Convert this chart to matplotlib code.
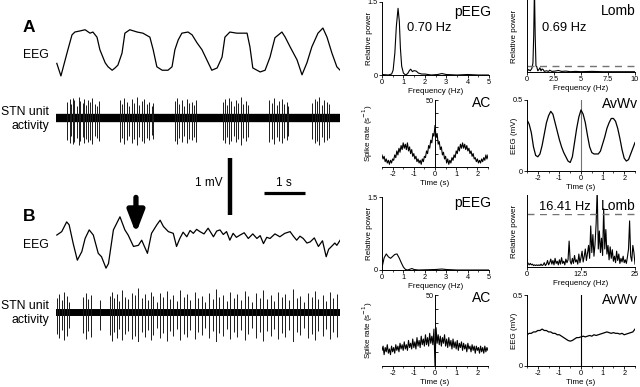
import matplotlib
matplotlib.use("Agg")
import matplotlib.pyplot as plt
from matplotlib.ticker import MultipleLocator

plt.rcParams['font.family'] = ['Liberation Sans', 'DejaVu Sans']
plt.rcParams['axes.unicode_minus'] = False

# ---- raw traces (time in s, EEG in mV, unit activity in arbitrary units) ----
eeg_a_t = [0.02, 0.12, 0.29, 0.39, 0.46, 0.59, 0.71, 0.83, 0.90, 1.00, 1.07, 1.20, 1.27, 1.37,
           1.44, 1.51, 1.61, 1.68, 1.80, 1.98, 2.12, 2.29, 2.37, 2.46, 2.59, 2.73, 2.83, 2.90,
           2.98, 3.07, 3.22, 3.32, 3.44, 3.56, 3.68, 3.80, 3.93, 4.05, 4.12, 4.24, 4.41, 4.66,
           4.73, 4.80, 4.98, 5.10, 5.22, 5.34, 5.51, 5.59, 5.71, 5.88, 6.00, 6.12, 6.24, 6.39,
           6.51, 6.61, 6.73, 6.85, 6.93]
eeg_a_v = [-0.20, -0.42, 0.04, 0.30, 0.35, 0.37, 0.39, 0.33, 0.35, 0.26, 0.04, -0.19, -0.26, -0.32,
           -0.28, -0.23, -0.02, 0.33, 0.39, 0.35, 0.33, 0.26, 0.04, -0.26, -0.32, -0.32, -0.26, 0.04,
           0.21, 0.33, 0.35, 0.30, 0.16, 0.04, -0.14, -0.32, -0.28, -0.09, 0.26, 0.35, 0.33, 0.33,
           0.09, -0.28, -0.35, -0.32, -0.09, 0.25, 0.35, 0.26, 0.09, -0.14, -0.40, -0.19, 0.09, 0.33,
           0.42, 0.26, -0.02, -0.26, -0.32]

eeg_b_t = [0.02, 0.14, 0.26, 0.32, 0.42, 0.52, 0.63, 0.71, 0.81, 0.91, 1.03, 1.11, 1.22, 1.28,
           1.40, 1.56, 1.68, 1.76, 1.89, 2.01, 2.09, 2.23, 2.33, 2.46, 2.54, 2.62, 2.74, 2.86,
           2.94, 3.02, 3.10, 3.19, 3.27, 3.35, 3.43, 3.51, 3.61, 3.71, 3.78, 3.84, 3.92, 4.00,
           4.08, 4.16, 4.24, 4.32, 4.40, 4.49, 4.59, 4.69, 4.80, 4.90, 4.98, 5.06, 5.14, 5.22,
           5.34, 5.46, 5.58, 5.71, 5.79, 5.87, 5.95, 6.03, 6.12, 6.20, 6.30, 6.40, 6.50, 6.59,
           6.65, 6.72, 6.80, 6.85, 6.93]
eeg_b_v = [0.00, 0.06, 0.23, 0.18, -0.15, -0.44, -0.29, -0.06, 0.09, 0.00, -0.32, -0.38, -0.58, -0.50,
           0.09, 0.32, 0.09, 0.00, -0.20, -0.18, -0.09, -0.32, 0.03, 0.18, 0.26, 0.15, 0.06, 0.03,
           -0.20, -0.06, 0.05, -0.03, 0.08, 0.03, 0.10, 0.06, 0.02, 0.12, 0.04, -0.03, 0.07, 0.09,
           0.01, 0.06, -0.09, 0.03, -0.04, 0.00, 0.04, -0.06, 0.02, -0.06, -0.01, -0.15, -0.04, -0.06,
           0.02, -0.03, 0.03, 0.06, -0.02, -0.09, -0.02, -0.06, -0.14, -0.12, -0.05, -0.20, -0.10, -0.38,
           -0.25, -0.20, -0.14, -0.18, -0.09]

stn_a_t = [0.28, 0.33, 0.37, 0.41, 0.45, 0.50, 0.55, 0.59, 0.65, 0.69, 0.73, 0.79, 0.83, 0.89, 0.95, 1.01, 1.06,
           1.56, 1.60, 1.66, 1.72, 1.79, 1.85, 1.90, 1.97, 2.03, 2.09, 2.15, 2.21, 2.27, 2.33, 2.37,
           2.90, 2.94, 3.00, 3.07, 3.12, 3.19, 3.25, 3.31, 3.37, 3.41,
           4.07, 4.12, 4.18, 4.23, 4.28, 4.34, 4.39, 4.45, 4.50, 4.57, 4.63, 4.69,
           5.20, 5.26, 5.32, 5.38, 5.45, 5.50, 5.56, 5.63, 5.67,
           6.25, 6.31, 6.37, 6.42, 6.48, 6.54, 6.60, 6.67]
stn_a_up = [16, 19, 14, 20, 18, 12, 21, 17, 15, 19, 13, 18, 16, 20, 14, 12, 17,
            18, 14, 20, 16, 12, 19, 15, 21, 13, 17, 19, 14, 16, 12, 15,
            17, 20, 14, 18, 12, 19, 15, 16, 13, 18,
            16, 19, 13, 20, 17, 12, 18, 15, 21, 14, 17, 13,
            18, 15, 20, 13, 17, 19, 14, 16, 12,
            15, 19, 17, 21, 13, 18, 16, 14]
stn_a_dn = [-22, -25, -18, -26, -24, -20, -27, -23, -19, -25, -21, -24, -22, -26, -18, -20, -23,
            -24, -20, -26, -22, -18, -25, -21, -27, -19, -23, -25, -20, -22, -17, -21,
            -23, -26, -20, -24, -18, -25, -21, -22, -19, -24,
            -22, -25, -19, -26, -23, -18, -24, -21, -27, -20, -23, -19,
            -24, -21, -26, -19, -23, -25, -20, -22, -18,
            -21, -25, -23, -27, -19, -24, -22, -20]

stn_b_t = [0.03, 0.08, 0.14, 0.20, 0.26, 0.31, 0.67, 0.73, 0.79, 0.85, 1.07,
           1.32, 1.37, 1.41, 1.48, 1.54, 1.60, 1.68, 1.76, 1.85, 1.93,
           2.01, 2.09, 2.17, 2.25, 2.31, 2.37, 2.46, 2.54, 2.62, 2.70,
           2.78, 2.86, 2.94, 3.02, 3.12, 3.20, 3.28, 3.39, 3.47, 3.55,
           3.63, 3.72, 3.82, 3.90, 3.98, 4.07, 4.16, 4.24, 4.33, 4.42,
           4.50, 4.61, 4.69, 4.77, 4.88, 4.98, 5.06, 5.14, 5.24, 5.32,
           5.42, 5.50, 5.59, 5.69, 5.79, 5.87, 5.95, 6.05, 6.15, 6.24,
           6.32, 6.40, 6.50, 6.59, 6.68, 6.76, 6.86]
stn_b_up = [14, 18, 12, 20, 16, 10, 15, 19, 13, 17, 12,
            16, 20, 14, 18, 11, 22, 15, 13, 19, 17,
            24, 14, 18, 12, 20, 16, 10, 19, 15, 21,
            13, 17, 11, 22, 15, 18, 12, 20, 14, 16,
            10, 19, 13, 23, 15, 17, 11, 20, 14, 18,
            12, 21, 16, 10, 19, 14, 22, 13, 17, 11,
            20, 15, 18, 12, 23, 14, 16, 10, 19, 15,
            21, 13, 17, 11, 20, 14, 18]
stn_b_dn = [-22, -26, -18, -28, -24, -16, -21, -27, -19, -25, -18,
            -23, -29, -20, -26, -17, -28, -22, -19, -27, -24,
            -30, -20, -25, -18, -28, -23, -16, -26, -21, -29,
            -19, -24, -17, -28, -22, -25, -18, -27, -20, -23,
            -16, -26, -19, -30, -21, -24, -17, -27, -20, -25,
            -18, -28, -22, -16, -26, -20, -29, -19, -24, -17,
            -27, -21, -25, -18, -30, -20, -23, -16, -26, -22,
            -28, -19, -24, -17, -27, -20, -25]

# ---- spectra ----
peeg_a_f = [0, 0.3, 0.45, 0.52, 0.6, 0.67, 0.75, 0.81, 0.86, 0.92, 1.0, 1.1, 1.2, 1.28, 1.34,
            1.42, 1.5, 1.6, 1.7, 1.85, 2.0, 2.3, 2.6, 2.8, 3.0, 3.5, 4.0, 4.5, 5.0]
peeg_a_p = [0.01, 0.0, 0.02, 0.1, 0.45, 1.0, 1.37, 1.1, 0.55, 0.18, 0.04, 0.0, 0.03, 0.09, 0.12,
            0.07, 0.09, 0.08, 0.04, 0.02, 0.02, 0.0, 0.01, 0.03, 0.01, 0.0, 0.01, 0.0, 0.0]
peeg_b_f = [0, 0.05, 0.1, 0.2, 0.3, 0.4, 0.5, 0.6, 0.7, 0.8, 0.9, 1.0, 1.1, 1.2, 1.4, 1.5,
            1.7, 2.5, 2.8, 3.0, 3.5, 5.0]
peeg_b_p = [0.05, 0.15, 0.25, 0.33, 0.27, 0.24, 0.28, 0.32, 0.33, 0.25, 0.15, 0.06, 0.01, 0.0,
            0.03, 0.01, 0.0, 0.01, 0.02, 0.01, 0.0, 0.0]

lomb_a_f = [0, 0.15, 0.3, 0.45, 0.55, 0.62, 0.69, 0.76, 0.83, 0.9, 1.0, 1.1, 1.2, 1.3, 1.4, 1.5,
            1.6, 1.8, 2.0, 2.1, 2.3, 2.6, 2.9, 3.2, 3.6, 4.0, 4.5, 5.0, 6.0, 7.0, 8.0, 9.0, 10.0]
lomb_a_p = [0.1, 0.4, 0.2, 0.6, 1.5, 6.0, 14.0, 6.0, 1.0, 0.9, 0.2, 0.4, 0.7, 0.2, 0.5, 0.4,
            0.1, 0.2, 0.1, 0.3, 0.1, 0.15, 0.25, 0.1, 0.15, 0.05, 0.1, 0.05, 0.1, 0.05, 0.05, 0.05, 0.05]
lomb_a_thr = 1.0

lomb_b_f = [i * 0.25 for i in range(101)]
lomb_b_p = [0.8, 0.5, 0.3, 0.5, 0.3, 0.4, 0.2, 0.3, 0.2, 0.3, 0.2, 0.3, 0.2, 0.4, 0.2, 0.3,
            0.6, 0.2, 0.4, 0.9, 0.3, 0.6, 1.1, 0.4, 0.9, 0.3, 1.2, 0.5, 0.8, 0.3, 1.0, 0.4,
            1.3, 0.5, 0.8, 0.3, 1.1, 0.6, 1.0, 3.6, 0.8, 0.4, 1.2, 0.5, 1.6, 0.7, 1.0, 0.4,
            1.8, 0.6, 1.3, 2.2, 0.7, 1.5, 2.5, 0.9, 1.9, 3.0, 1.2, 5.7, 2.0, 4.5, 1.5, 3.2,
            6.0, 10.8, 2.5, 5.0, 2.0, 4.0, 1.6, 8.1, 2.5, 5.2, 1.8, 3.0, 1.0, 2.8, 1.2, 2.4,
            0.8, 1.5, 0.6, 2.2, 0.9, 1.8, 0.5, 1.2, 0.7, 1.5, 0.6, 1.0, 0.5, 1.4, 2.5, 6.4,
            1.5, 0.8, 3.0, 2.0, 0.4]
lomb_b_thr = 7.3

# ---- autocorrelograms and wave averages ----
lag_t = [round(-2.5 + 0.05 * i, 2) for i in range(101)]
ac_a = [9, 6, 8, 4, 6, 3, 5, 2, 5, 3, 6, 5, 9, 7, 12, 9, 14, 11, 16, 13, 18, 14, 17, 13, 18,
        12, 15, 10, 13, 8, 10, 6, 8, 4, 6, 3, 5, 2, 6, 4, 8, 7, 12, 10, 16, 14, 20, 18, 25, 23,
        31, 22, 25, 17, 19, 13, 15, 9, 11, 6, 8, 3, 6, 2, 5, 3, 7, 5, 9, 7, 12, 10, 15, 12, 17,
        14, 18, 14, 17, 13, 16, 12, 14, 10, 12, 8, 10, 6, 7, 4, 6, 3, 5, 3, 6, 4, 7, 5, 9, 6, 9]
ac_b = [11, 14, 8, 13, 10, 15, 9, 12, 8, 14, 10, 13, 9, 15, 11, 14, 10, 16, 12, 15, 11, 17, 12,
        15, 11, 18, 13, 16, 12, 19, 13, 17, 12, 20, 14, 18, 13, 21, 15, 19, 14, 22, 15, 20, 14,
        23, 16, 21, 15, 26, 0, 27, 16, 22, 15, 21, 14, 20, 16, 22, 14, 19, 13, 20, 14, 18, 12,
        19, 13, 17, 12, 18, 11, 16, 13, 17, 11, 16, 12, 15, 10, 16, 12, 14, 10, 15, 11, 14, 9,
        14, 11, 13, 9, 14, 10, 13, 9, 14, 10, 13, 11]

avwv_t = [-2.5, -2.4, -2.3, -2.2, -2.1, -2.0, -1.9, -1.8, -1.7, -1.6, -1.5, -1.4, -1.3, -1.2,
          -1.1, -1.0, -0.9, -0.8, -0.7, -0.6, -0.5, -0.4, -0.3, -0.2, -0.1, 0.0, 0.1, 0.2, 0.3,
          0.4, 0.5, 0.6, 0.7, 0.8, 0.9, 1.0, 1.1, 1.2, 1.3, 1.4, 1.5, 1.6, 1.7, 1.8, 1.9, 2.0,
          2.1, 2.2, 2.3, 2.4, 2.5]
avwv_a = [0.36, 0.33, 0.27, 0.17, 0.11, 0.10, 0.12, 0.18, 0.26, 0.34, 0.39, 0.42, 0.40, 0.34,
          0.28, 0.22, 0.17, 0.13, 0.10, 0.07, 0.06, 0.10, 0.20, 0.30, 0.38, 0.43, 0.40, 0.34,
          0.25, 0.17, 0.13, 0.12, 0.12, 0.12, 0.14, 0.19, 0.24, 0.30, 0.34, 0.37, 0.37, 0.35,
          0.30, 0.23, 0.15, 0.09, 0.07, 0.08, 0.12, 0.16, 0.20]
avwv_b = [0.22, 0.23, 0.23, 0.24, 0.24, 0.25, 0.25, 0.26, 0.25, 0.25, 0.24, 0.24, 0.23, 0.23,
          0.22, 0.22, 0.21, 0.20, 0.19, 0.18, 0.175, 0.18, 0.19, 0.20, 0.20, 0.205, 0.21, 0.205,
          0.21, 0.215, 0.21, 0.22, 0.215, 0.22, 0.225, 0.23, 0.235, 0.24, 0.235, 0.23, 0.235,
          0.23, 0.23, 0.225, 0.23, 0.22, 0.225, 0.23, 0.235, 0.24, 0.26]

W, H = 640.0, 387.0
T_END = 284 / 41.0

fig = plt.figure(figsize=(6.4, 3.87), dpi=100)


def box(x0, y0, x1, y1):
    return fig.add_axes([x0 / W, 1 - y1 / H, (x1 - x0) / W, (y1 - y0) / H])


def ftext(x, y, s, **kw):
    fig.text(x / W, 1 - y / H, s, **kw)


# ---------------- left: raw traces ----------------
axEa = box(56, 20, 340, 85)
axEa.plot(eeg_a_t, eeg_a_v, color='k', lw=0.9)
axEa.set_xlim(0, T_END)
axEa.set_ylim(-0.579, 0.561)
axEa.axis('off')

axSa = box(56, 94, 340, 148)
axSa.axhline(0, color='k', lw=6.0)
axSa.vlines(stn_a_t, stn_a_dn, stn_a_up, color='0.1', lw=0.7)
axSa.set_xlim(0, T_END)
axSa.set_ylim(-30, 24)
axSa.axis('off')

axEb = box(56, 150, 340, 275)
axEb.plot(eeg_b_t, eeg_b_v, color='k', lw=0.9)
axEb.set_xlim(0, T_END)
axEb.set_ylim(-0.70, 1.49)
axEb.axis('off')
# scale bars: 1 mV and 1 s
axEb.plot([4.24, 4.24], [0.35, 1.35], color='k', lw=3.2, solid_capstyle='butt')
axEb.plot([5.07, 6.07], [0.74, 0.74], color='k', lw=2.3, solid_capstyle='butt')
axEb.text(4.06, 0.91, '1 mV', ha='right', va='center', fontsize=8.5)
axEb.text(5.57, 0.91, '1 s', ha='center', va='center', fontsize=8.5)
axEb.annotate('', xy=(1.95, 0.03), xytext=(1.95, 0.66),
              arrowprops=dict(arrowstyle='-|>,head_width=0.5,head_length=1.3',
                              color='k', lw=3.8, shrinkA=0, shrinkB=0))

axSb = box(56, 288, 340, 342)
axSb.axhline(0, color='k', lw=5.0)
axSb.vlines(stn_b_t, stn_b_dn, stn_b_up, color='0.1', lw=0.7)
axSb.set_xlim(0, T_END)
axSb.set_ylim(-30, 24)
axSb.axis('off')

ftext(23, 28, 'A', fontsize=12.5, fontweight='bold', va='center')
ftext(23, 217, 'B', fontsize=12.5, fontweight='bold', va='center')
for yy in (55, 245):
    ftext(49, yy, 'EEG', fontsize=8.8, ha='right', va='center')
for yy in (119, 313):
    ftext(49, yy, 'STN unit\nactivity', fontsize=8.8, ha='right', va='center',
          multialignment='right', linespacing=1.25)


# ---------------- right: small analysis panels ----------------
def style(ax):
    for s in ('top', 'right'):
        ax.spines[s].set_visible(False)
    for s in ('left', 'bottom'):
        ax.spines[s].set_linewidth(0.7)
    ax.tick_params(labelsize=5.3, length=2, width=0.6, pad=1)
    ax.tick_params(which='minor', length=1.2, width=0.5)


def freq_panel(ax, f, p, xmax, ylim, xticks, xlabels, yticks):
    style(ax)
    ax.plot(f, p, color='k', lw=0.8)
    ax.set_xlim(0, xmax)
    ax.set_ylim(*ylim)
    ax.set_xticks(xticks)
    ax.set_xticklabels(xlabels)
    ax.set_yticks(yticks)
    ax.set_yticklabels(['0', '1.5'] if yticks else [])
    ax.set_xlabel('Frequency (Hz)', fontsize=5.8, labelpad=1)
    ax.set_ylabel('Relative power', fontsize=5.8)


def ac_panel(ax, vals):
    style(ax)
    ax.plot(lag_t, vals, color='k', lw=0.8)
    ax.set_xlim(-2.5, 2.5)
    ax.set_ylim(0, 50)
    ax.spines['left'].set_position(('data', 0))
    ax.set_yticks([10, 20, 30, 40, 50])
    ax.set_yticklabels(['', '', '', '', '50'])
    ax.tick_params(axis='y', direction='in')
    ax.set_xticks([-2, -1, 0, 1, 2])
    ax.xaxis.set_minor_locator(MultipleLocator(0.5))
    ax.set_xlabel('Time (s)', fontsize=5.8, labelpad=1)
    ax.set_ylabel('Spike rate (s$^{-1}$)', fontsize=5.8)
    ax.yaxis.set_label_coords(-0.065, 0.5)


def wave_panel(ax, vals, zcol):
    style(ax)
    ax.axvline(0, color=zcol, lw=0.8)
    ax.plot(avwv_t, vals, color='k', lw=0.9)
    ax.set_xlim(-2.5, 2.5)
    ax.set_ylim(0, 0.5)
    ax.set_yticks([0, 0.5])
    ax.set_yticklabels(['0', '0.5'])
    ax.set_xticks([-2, -1, 0, 1, 2])
    ax.xaxis.set_minor_locator(MultipleLocator(0.5))
    ax.set_xlabel('Time (s)', fontsize=5.8, labelpad=1)
    ax.set_ylabel('EEG (mV)', fontsize=5.8)
    ax.yaxis.set_label_coords(-0.083, 0.5)


ax1 = box(382, 2, 489, 75)
freq_panel(ax1, peeg_a_f, peeg_a_p, 5, (0, 1.5), [0, 1, 2, 3, 4, 5],
           ['0', '1', '2', '3', '4', '5'], [0, 1.5])
ax1.xaxis.set_minor_locator(MultipleLocator(0.5))
ax1.yaxis.set_label_coords(-0.085, 0.5)

ax2 = box(527, 0, 635, 72)
freq_panel(ax2, lomb_a_f, lomb_a_p, 10, (0, 12), [0, 2.5, 5, 7.5, 10],
           ['0', '2.5', '5', '7.5', '10'], [])
ax2.axhline(lomb_a_thr, color='0.45', lw=1.0, dashes=(5, 4))
ax2.yaxis.set_label_coords(-0.083, 0.5)

ax3 = box(382, 100, 488, 167)
ac_panel(ax3, ac_a)

ax4 = box(527, 100, 635, 171)
wave_panel(ax4, avwv_a, '0.45')

ax5 = box(382, 197, 489, 270)
freq_panel(ax5, peeg_b_f, peeg_b_p, 5, (0, 1.5), [0, 1, 2, 3, 4, 5],
           ['0', '1', '2', '3', '4', '5'], [0, 1.5])
ax5.xaxis.set_minor_locator(MultipleLocator(0.5))
ax5.yaxis.set_label_coords(-0.085, 0.5)

ax6 = box(527, 195, 635, 267)
freq_panel(ax6, lomb_b_f, lomb_b_p, 25, (0, 10), [0, 12.5, 25],
           ['0', '12.5', '25'], [])
ax6.axhline(lomb_b_thr, color='0.45', lw=1.0, dashes=(5, 4))
ax6.yaxis.set_label_coords(-0.083, 0.5)

ax7 = box(382, 295, 488, 366)
ac_panel(ax7, ac_b)

ax8 = box(527, 295, 635, 366)
wave_panel(ax8, avwv_b, 'k')

# panel titles and peak frequencies
ftext(491, 12, 'pEEG', fontsize=10, ha='right', va='center')
ftext(636, 11, 'Lomb', fontsize=10, ha='right', va='center')
ftext(407, 28, '0.70 Hz', fontsize=9.3, ha='left', va='center')
ftext(542, 28, '0.69 Hz', fontsize=9.3, ha='left', va='center')
ftext(491, 103, 'AC', fontsize=10, ha='right', va='center')
ftext(638, 104, 'AvWv', fontsize=10, ha='right', va='center')
ftext(491, 203, 'pEEG', fontsize=10, ha='right', va='center')
ftext(636, 206, 'Lomb', fontsize=10, ha='right', va='center')
ftext(539, 207, '16.41 Hz', fontsize=9.3, ha='left', va='center',
      bbox=dict(facecolor='white', edgecolor='none', pad=0.5))
ftext(491, 298, 'AC', fontsize=10, ha='right', va='center')
ftext(638, 300, 'AvWv', fontsize=10, ha='right', va='center')

fig.savefig('out.png', dpi=100)
